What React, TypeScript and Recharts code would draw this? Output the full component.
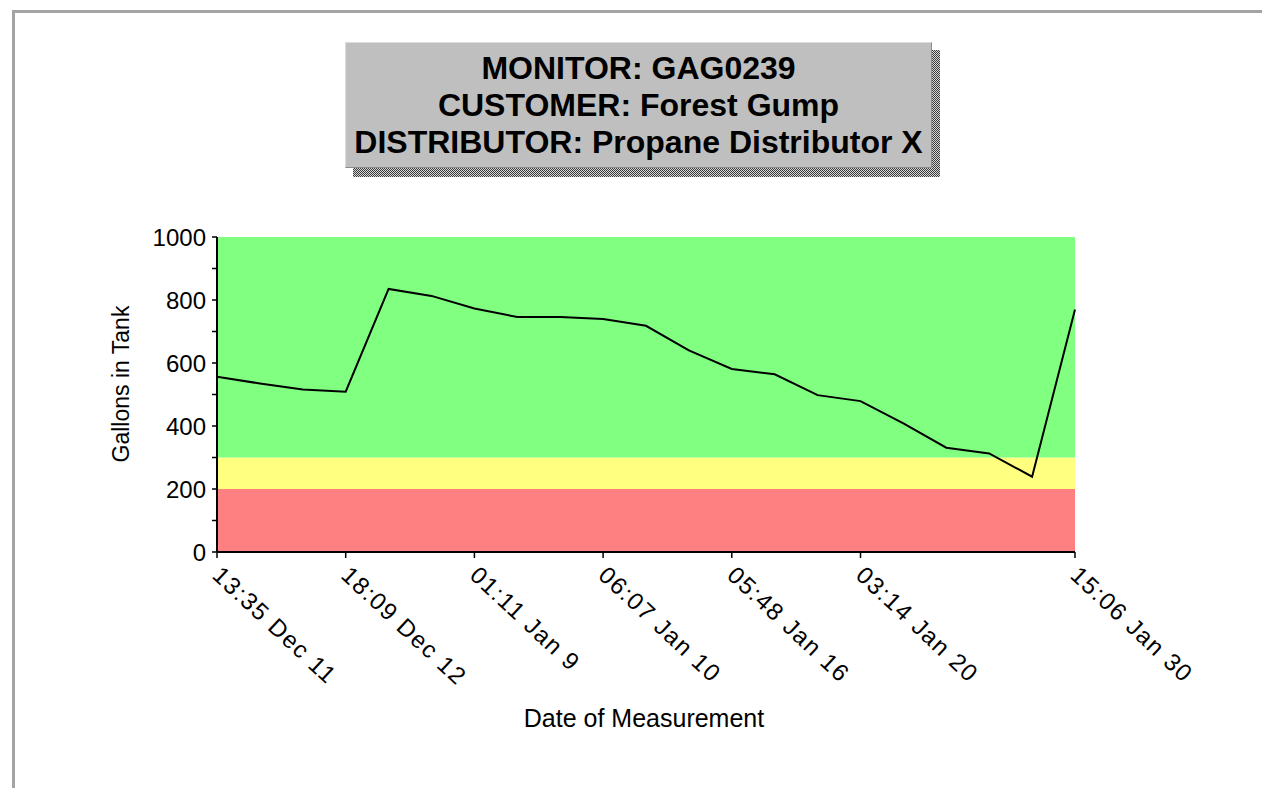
import React from 'react';
import { LineChart, Line, XAxis, YAxis, ReferenceArea } from 'recharts';

// one reading per evenly spaced slot on the x axis
const readingIndex = [0, 1, 2, 3, 4, 5, 6, 7, 8, 9, 10, 11, 12, 13, 14, 15, 16, 17, 18, 19, 20];
const gallons = [556, 535, 516, 509, 835, 813, 773, 746, 746, 740, 718, 640, 581, 564, 498, 479, 408, 331, 313, 239, 770];

const tickIndex = [0, 3, 6, 9, 12, 15, 20];
const tickLabels = ['13:35 Dec 11', '18:09 Dec 12', '01:11 Jan 9', '06:07 Jan 10', '05:48 Jan 16', '03:14 Jan 20', '15:06 Jan 30'];

const yTicks = [0, 100, 200, 300, 400, 500, 600, 700, 800, 900, 1000];
const yLabelStep = 200;

// tank level zones: red below 200, yellow 200-300, green above
const zoneBounds = [0, 200, 300, 1000];
const zoneColors = ['#FF8080', '#FFFF80', '#80FF80'];

const titleLines = ['MONITOR: GAG0239', 'CUSTOMER: Forest Gump', 'DISTRIBUTOR: Propane Distributor X'];

const FONT = '"Liberation Sans", Arial, sans-serif';

const data = readingIndex.map((idx, i) => ({ idx, gal: gallons[i] }));

const YTick = ({ x, y, payload }: any) => {
  if (payload.value % yLabelStep !== 0) return <g />;
  return (
    <text x={x} y={y} dy="0.36em" textAnchor="end" fontFamily={FONT} fontSize={24} fill="#000">
      {payload.value}
    </text>
  );
};

const XTick = ({ x, y, payload }: any) => {
  const label = tickLabels[tickIndex.indexOf(payload.value)];
  return (
    <g transform={`translate(${x - 6},${y + 17})`}>
      <text transform="rotate(43)" textAnchor="start" fontFamily={FONT} fontSize={24} letterSpacing={1.5} fill="#000">
        {label}
      </text>
    </g>
  );
};

export default function App() {
  return (
    <div style={{ position: 'relative', width: 1254, height: 780, background: '#fff', fontFamily: FONT }}>
      <div
        style={{
          position: 'absolute', left: 4, top: 2, right: 0, bottom: 0,
          borderTop: '3px solid #a4a4a4', borderLeft: '3px solid #a4a4a4',
        }}
      />

      <LineChart
        width={1254}
        height={780}
        data={data}
        margin={{ top: 229, right: 187, left: 129, bottom: 86 }}
        style={{ position: 'absolute', left: 0, top: 0 }}
      >
        {zoneColors.map((c, i) => (
          <ReferenceArea key={i} y1={zoneBounds[i]} y2={zoneBounds[i + 1]} fill={c} fillOpacity={1} stroke="none" />
        ))}
        <XAxis
          type="number"
          dataKey="idx"
          domain={[0, 20]}
          ticks={tickIndex}
          interval={0}
          height={150}
          tickSize={6}
          tickMargin={2}
          axisLine={{ stroke: '#000', strokeWidth: 2 }}
          tickLine={{ stroke: '#000', strokeWidth: 1.5 }}
          tick={XTick}
        />
        <YAxis
          domain={[0, 1000]}
          ticks={yTicks}
          interval={0}
          width={80}
          tickSize={5}
          tickMargin={6}
          axisLine={{ stroke: '#000', strokeWidth: 2 }}
          tickLine={{ stroke: '#000', strokeWidth: 1.5 }}
          tick={YTick}
        />
        <Line type="linear" dataKey="gal" stroke="#000" strokeWidth={2} dot={false} isAnimationActive={false} />
      </LineChart>

      {/* title box with dithered drop shadow */}
      <div
        style={{
          position: 'absolute', left: 345, top: 42, width: 587, height: 127,
          background: 'repeating-conic-gradient(#3a3a3a 0% 25%, #d8d8d8 0% 50%) 0 0 / 2px 2px',
        }}
      />
      <div
        style={{
          position: 'absolute', left: 337, top: 34, width: 587, height: 126,
          background: '#c0bfc0',
          borderTop: '1px solid #dcdcdc', borderLeft: '1px solid #dcdcdc',
          borderBottom: '1px solid #8c8c8c', borderRight: '1px solid #8c8c8c',
          textAlign: 'center', fontWeight: 'bold', fontSize: 32, lineHeight: '37px',
          paddingTop: 7, boxSizing: 'border-box', color: '#000',
        }}
      >
        {titleLines.map((t) => (
          <div key={t} style={{ whiteSpace: 'nowrap' }}>{t}</div>
        ))}
      </div>

      <div
        style={{
          position: 'absolute', left: 113, top: 376, fontSize: 23, whiteSpace: 'nowrap',
          transform: 'translate(-50%, -50%) rotate(-90deg)', color: '#000',
        }}
      >
        Gallons in Tank
      </div>
      <div
        style={{
          position: 'absolute', left: 636, top: 710, fontSize: 25, whiteSpace: 'nowrap',
          transform: 'translate(-50%, -50%)', color: '#000',
        }}
      >
        Date of Measurement
      </div>
    </div>
  );
}
